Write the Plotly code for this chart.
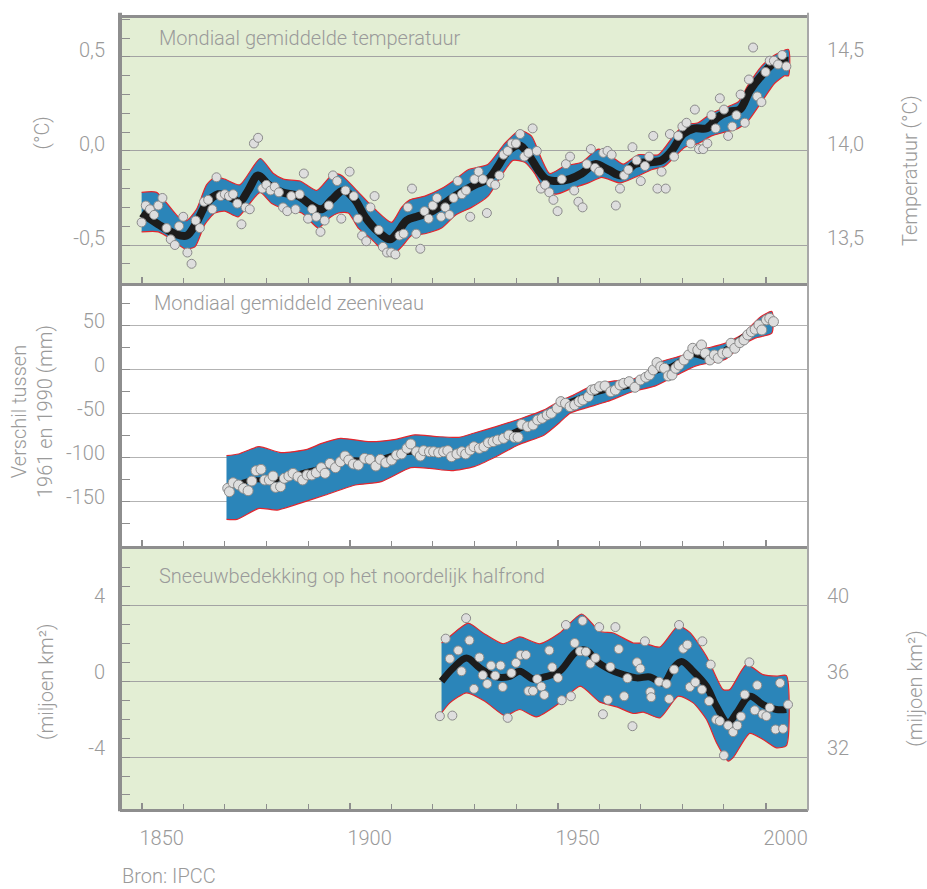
import plotly.graph_objects as go

# ---------------- data ----------------
# Panel 1: global mean temperature anomaly (deg C), one point per year 1850-2005
temp_years = list(range(1850, 2006))
temp_values = [
    -0.38, -0.29, -0.31, -0.34, -0.29, -0.25, -0.41, -0.47, -0.50, -0.40,
    -0.35, -0.54, -0.60, -0.37, -0.41, -0.27, -0.26, -0.31, -0.14, -0.24,
    -0.23, -0.24, -0.23, -0.28, -0.39, -0.30, -0.31, 0.04, 0.07, -0.20,
    -0.18, -0.21, -0.19, -0.22, -0.30, -0.32, -0.24, -0.31, -0.23, -0.12,
    -0.36, -0.31, -0.35, -0.43, -0.37, -0.29, -0.13, -0.16, -0.36, -0.21,
    -0.11, -0.24, -0.36, -0.45, -0.48, -0.30, -0.24, -0.42, -0.51, -0.54,
    -0.54, -0.55, -0.45, -0.44, -0.30, -0.20, -0.44, -0.52, -0.32, -0.36,
    -0.29, -0.25, -0.35, -0.30, -0.34, -0.25, -0.16, -0.23,
    -0.21, -0.35, -0.15, -0.11, -0.15, -0.33, -0.17, -0.18, -0.13, -0.02,
    0.00, 0.04, 0.04, 0.09, -0.03, -0.01, 0.12, 0.00, -0.20, -0.18,
    -0.22, -0.26, -0.32, -0.15, -0.07, -0.03, -0.21, -0.27, -0.30, -0.07,
    0.01, -0.09, -0.11, -0.01, 0.00, -0.02, -0.29, -0.20, -0.13, -0.10,
    0.02, -0.05, -0.16, -0.08, -0.03, 0.08, -0.20, -0.11, -0.20, 0.09,
    -0.03, 0.08, 0.13, 0.15, 0.04, 0.22, 0.01, 0.01, 0.04, 0.19,
    0.12, 0.28, 0.22, 0.08, 0.13, 0.19, 0.30, 0.15, 0.38, 0.55,
    0.29, 0.26, 0.42, 0.48, 0.48, 0.46, 0.51, 0.45,
]
temp_curve_x = [1850, 1854, 1858, 1860.8, 1863.2, 1865.6, 1868.4, 1871.6, 1873.6, 1875.6,
                1878, 1880.5, 1883.7, 1887.7, 1890.9, 1893.3, 1895.7, 1898.5, 1901.3, 1903.7,
                1906.9, 1909.7, 1911.3, 1913.7, 1916.1, 1918.9, 1922.1, 1925.3, 1930.1, 1933.3,
                1935.7, 1938.1, 1940.9, 1943.3, 1945.3, 1947.3, 1950.1, 1952.9, 1955.8, 1959,
                1962.2, 1965.4, 1968.6, 1971.8, 1975, 1977.4, 1980.2, 1983, 1985.8, 1988.6,
                1991.4, 1993.8, 1996.2, 1999, 2002.2, 2005.5]
temp_curve_y = [-0.33, -0.39, -0.44, -0.45, -0.38, -0.28, -0.23, -0.25, -0.27, -0.21,
                -0.13, -0.18, -0.22, -0.24, -0.29, -0.31, -0.26, -0.21, -0.26, -0.35,
                -0.43, -0.47, -0.44, -0.37, -0.35, -0.33, -0.29, -0.24, -0.18, -0.15,
                -0.08, 0.00, 0.03, -0.03, -0.10, -0.15, -0.16, -0.15, -0.12, -0.07,
                -0.10, -0.13, -0.07, -0.06, -0.05, 0.00, 0.09, 0.12, 0.12, 0.18,
                0.21, 0.22, 0.32, 0.40, 0.47, 0.48]
temp_top_x = [1850.0, 1853.6, 1858.8, 1860.8, 1863.2, 1865.6, 1867.6, 1870.0, 1873.6, 1878.5,
              1881.7, 1884.1, 1888.1, 1892.1, 1896.1, 1898.1, 1901.3, 1906.1, 1910.1, 1912.5,
              1914.5, 1918.1, 1922.1, 1925.5, 1928.5, 1933.3, 1937.3, 1940.9, 1943.7, 1946.1,
              1948.1, 1951.7, 1955.8, 1959.8, 1963.0, 1965.8, 1969.4, 1974.2, 1978.2, 1980.6,
              1983.8, 1987.0, 1990.2, 1993.4, 1995.8, 1999.0, 2002.2, 2005.5]
temp_top_y = [-0.22, -0.22, -0.35, -0.37, -0.31, -0.18, -0.14, -0.15, -0.18, -0.04,
              -0.12, -0.15, -0.16, -0.21, -0.12, -0.13, -0.20, -0.31, -0.38, -0.30,
              -0.26, -0.24, -0.20, -0.15, -0.10, -0.07, 0.04, 0.11, 0.08, -0.04,
              -0.12, -0.08, -0.06, 0.01, -0.03, -0.07, -0.02, -0.02, 0.09, 0.14,
              0.15, 0.20, 0.23, 0.26, 0.35, 0.45, 0.51, 0.54]
temp_bot_x = [1850.0, 1854.0, 1857.2, 1860.4, 1862.8, 1865.2, 1867.6, 1870.0, 1873.2, 1875.6,
              1878.5, 1881.3, 1884.5, 1888.5, 1892.5, 1894.9, 1897.3, 1899.7, 1902.1, 1905.3,
              1909.7, 1912.5, 1914.9, 1918.1, 1922.1, 1925.5, 1929.3, 1933.3, 1936.5, 1939.3,
              1942.1, 1944.5, 1946.9, 1949.7, 1953.3, 1957.4, 1960.6, 1965.0, 1968.6, 1972.6,
              1975.8, 1978.2, 1980.6, 1983.8, 1987.0, 1990.2, 1993.4, 1995.8, 1999.0, 2002.2,
              2004.6, 2005.5]
temp_bot_y = [-0.43, -0.43, -0.47, -0.52, -0.51, -0.39, -0.33, -0.32, -0.35, -0.29,
              -0.22, -0.28, -0.31, -0.33, -0.41, -0.36, -0.33, -0.33, -0.41, -0.47,
              -0.56, -0.51, -0.45, -0.44, -0.41, -0.34, -0.30, -0.24, -0.13, -0.05,
              -0.06, -0.12, -0.21, -0.23, -0.20, -0.17, -0.14, -0.17, -0.14, -0.10,
              -0.08, -0.03, 0.02, 0.04, 0.08, 0.10, 0.12, 0.16, 0.26, 0.36,
              0.40, 0.40]

# Panel 2: global mean sea level (mm, relative to 1961-1990)
sea_years = [1870.7, 1871.1, 1872.0, 1873.3, 1874.5, 1875.6, 1876.5, 1877.5, 1878.7, 1879.6,
             1880.7, 1881.6, 1882.2, 1883.4, 1884.3, 1885.4, 1886.4, 1887.6, 1888.7, 1889.8,
             1890.9, 1892.0, 1893.2, 1894.1, 1895.3, 1896.6, 1897.8, 1898.9, 1899.8, 1900.9,
             1902.1, 1903.6, 1904.9, 1906.3, 1907.4, 1908.7, 1910.1, 1911.3, 1912.5, 1913.8,
             1914.7, 1916.1, 1917.0, 1917.8, 1919.2, 1920.2, 1921.4, 1922.6, 1923.6, 1924.5,
             1925.8, 1927.0, 1927.9, 1929.0, 1929.9, 1931.2, 1932.3, 1933.4, 1934.5, 1935.6,
             1937.0, 1938.3, 1939.6, 1940.5, 1941.4, 1942.8, 1944.1, 1945.2, 1946.3, 1947.5,
             1948.5, 1949.9, 1950.8, 1951.9, 1953.0, 1954.1, 1955.2, 1956.1, 1957.4, 1958.2,
             1959.0, 1960.1, 1961.4, 1962.8, 1963.9, 1965.0, 1965.9, 1967.2, 1968.6, 1969.9,
             1971.2, 1972.1, 1973.0, 1973.9, 1974.8, 1975.7, 1976.6, 1977.5, 1978.4, 1979.2,
             1980.4, 1981.5, 1982.5, 1983.7, 1984.6, 1985.5, 1986.6, 1987.7, 1988.6, 1989.7,
             1990.8, 1991.7, 1992.6, 1993.8, 1994.8, 1995.7, 1996.6, 1997.5, 1998.4, 1999.1,
             2000.2, 2001.0, 2001.9]
sea_values = [-134.8, -138.6, -128.4, -131.0, -134.8, -137.5, -126.5, -114.7, -113.2, -125.3,
              -125.3, -120.8, -133.7, -132.9, -123.4, -120.8, -117.7, -121.5, -125.3, -119.6,
              -119.6, -117.0, -111.3, -117.7, -106.4, -111.3, -104.5, -98.0, -102.6, -107.1,
              -108.3, -100.7, -101.8, -109.4, -101.8, -105.6, -102.6, -96.9, -95.7, -89.3,
              -84.3, -93.1, -98.0, -91.9, -93.1, -93.1, -94.2, -93.1, -91.9, -98.8,
              -95.7, -93.1, -95.7, -91.2, -87.4, -89.3, -87.4, -82.8, -81.7, -79.8,
              -77.9, -74.1, -76.8, -76.8, -62.0, -64.6, -62.7, -57.0, -55.1, -51.3,
              -49.4, -43.7, -36.1, -38.0, -41.8, -39.9, -36.1, -34.2, -30.5, -22.9,
              -22.1, -19.1, -18.3, -24.8, -22.9, -17.2, -15.3, -13.4, -19.8, -11.5,
              -8.4, -5.8, 0.0, 8.3, 3.7, 1.8, -6.9, -5.8, 1.8, 5.6,
              11.3, 17.0, 24.6, 22.7, 28.4, 18.9, 11.3, 17.0, 13.2, 18.9,
              19.6, 30.3, 24.6, 31.0, 34.1, 39.8, 43.5, 46.2, 51.1, 45.4,
              56.8, 58.7, 54.9]
sea_curve_x = [1870.4, 1876.5, 1881.8, 1888.0, 1894.2, 1899.6, 1905.8, 1912.1, 1917.4, 1924.5,
               1929.9, 1936.1, 1941.4, 1947.7, 1952.1, 1957.4, 1962.8, 1968.1, 1973.5, 1977.0,
               1982.4, 1986.8, 1991.3, 1995.7, 1999.3, 2001.5]
sea_curve_y = [-134.8, -125.3, -125.3, -117.7, -110.1, -102.6, -102.6, -95.0, -93.1, -95.0,
               -89.3, -77.9, -66.5, -51.3, -38.0, -28.6, -22.1, -17.2, -2.0, 3.7,
               17.0, 13.2, 26.5, 41.7, 53.0, 58.7]
sea_top_x = [1870.4, 1873.3, 1878.2, 1883.5, 1889.8, 1893.3, 1897.8, 1904.9, 1911.1, 1915.6,
             1920.9, 1926.3, 1929.8, 1935.2, 1941.4, 1946.8, 1950.3, 1953.9, 1958.3, 1963.7,
             1968.1, 1971.7, 1974.4, 1979.7, 1983.3, 1986.8, 1990.4, 1994.8, 1998.4, 2001.5]
sea_top_y = [-97.6, -95.7, -87.4, -94.2, -90.4, -83.6, -77.9, -81.7, -79.0, -74.0,
             -75.9, -76.7, -72.1, -64.5, -55.0, -45.5, -36.0, -28.4, -18.2, -12.5,
             -10.6, -1.9, 8.4, 16.0, 22.8, 25.8, 30.4, 41.8, 58.9, 66.5]
sea_bot_x = [1870.4, 1872.9, 1878.2, 1882.6, 1888.0, 1894.2, 1901.4, 1907.6, 1914.7, 1919.2,
             1924.5, 1929.9, 1935.2, 1940.5, 1946.8, 1950.3, 1953.0, 1956.6, 1961.9, 1968.1,
             1973.5, 1978.8, 1983.3, 1990.4, 1993.9, 1997.5, 2001.5]
sea_bot_y = [-170.1, -170.1, -157.6, -159.5, -151.9, -142.4, -131.0, -127.2, -111.3, -112.0,
             -114.7, -110.1, -98.7, -85.4, -74.0, -60.7, -49.3, -43.6, -36.0, -24.6,
             -18.2, -5.6, 4.6, 12.2, 26.7, 36.2, 41.8]

# Panel 3: northern hemisphere snow cover anomaly (million km2)
snow_years = [1921.7, 1923.1, 1924.1, 1924.7, 1926.1, 1926.9, 1928.0, 1928.8, 1929.9, 1931.2,
              1932.0, 1933.1, 1934.0, 1935.0, 1936.3, 1936.8, 1938.0, 1938.9, 1940.0, 1941.1,
              1942.4, 1943.0, 1944.1, 1945.1, 1946.1, 1946.8, 1948.0, 1948.7, 1950.1, 1951.0,
              1952.0, 1953.2, 1954.1, 1955.4, 1956.0, 1956.8, 1957.9, 1959.1, 1960.0, 1960.9,
              1962.1, 1962.7, 1963.9, 1964.7, 1966.0, 1966.8, 1968.0, 1969.1, 1969.9, 1971.0,
              1972.3, 1972.5, 1974.4, 1976.2, 1976.8, 1978.0, 1979.2, 1980.2, 1981.2, 1981.8,
              1983.1, 1984.7, 1984.8, 1986.4, 1986.8, 1988.1, 1989.0, 1990.0, 1991.0, 1992.2,
              1993.2, 1994.1, 1995.0, 1996.1, 1997.4, 1998.0, 1999.3, 2000.2, 2001.0, 2002.4,
              2003.5, 2004.2, 2005.4]
snow_values = [-1.84, 2.25, 1.19, -1.81, 1.63, 0.53, 3.33, 2.16, -0.40, 1.26,
               0.32, -0.14, 0.83, 0.30, 0.83, -0.30, -1.93, 0.44, 0.97, 1.39,
               1.39, -0.51, -0.51, 0.12, -0.28, -0.72, 1.63, 0.74, 0.18, -1.00,
               2.97, -0.79, 2.02, 1.58, 3.19, 1.56, 0.93, 1.23, 2.86, -1.74,
               -0.98, 0.76, 2.86, 1.70, -0.79, 0.16, -2.37, 1.00, 0.67, 2.11,
               -0.56, -0.84, -0.02, -0.14, -0.93, 0.62, 2.97, 1.72, 1.93, -0.30,
               -0.05, -0.44, 2.11, -1.05, 0.88, -2.02, -2.10, -3.91, -2.33, -2.68,
               -2.33, -1.86, -0.70, 1.00, -1.53, -0.21, -1.74, -1.84, -1.39, -2.54,
               -0.09, -2.51, -1.23]
snow_curve_x = [1922.1, 1924.9, 1928.1, 1931.3, 1935.3, 1938.5, 1940.9, 1944.1, 1946.9, 1950.5,
                1954.6, 1957.0, 1959.4, 1962.6, 1965.8, 1969.0, 1972.2, 1975.4, 1977.8, 1979.8,
                1982.6, 1985.8, 1988.2, 1991.0, 1993.0, 1996.2, 1999.4, 2002.6, 2005.0]
snow_curve_y = [0.0, 0.70, 1.23, 0.70, 0.23, 0.26, 0.53, 0.12, 0.23, 0.53,
                1.58, 1.63, 1.05, 0.62, 0.35, 0.18, 0.23, -0.09, 0.70, 1.05,
                0.53, -0.26, -1.32, -2.19, -1.67, -0.79, -1.23, -1.49, -1.49]
snow_top_x = [1922.1, 1924.1, 1928.5, 1932.1, 1936.9, 1940.9, 1945.7, 1950.5, 1955.8, 1960.2,
              1963.4, 1968.2, 1970.6, 1974.6, 1979.0, 1981.8, 1985.8, 1989.8, 1991.4, 1995.4,
              1999.4, 2002.6, 2005.0]
snow_top_y = [2.02, 2.37, 3.07, 2.55, 1.98, 2.34, 1.98, 2.55, 3.55, 2.63,
              2.55, 2.02, 2.02, 1.81, 2.93, 2.58, 1.32, -0.44, -0.44, 0.88,
              0.35, 0.27, 0.30]
snow_bot_x = [1922.1, 1924.1, 1928.1, 1932.5, 1937.3, 1940.9, 1944.9, 1950.5, 1955.4, 1960.2,
              1964.2, 1968.2, 1970.6, 1974.6, 1979.0, 1982.6, 1985.8, 1988.2, 1991.0, 1992.2,
              1996.2, 1999.4, 2002.6, 2005.0]
snow_bot_y = [-1.67, -1.14, -0.61, -1.05, -1.81, -1.49, -1.88, -1.14, -0.26, -1.10,
              -1.35, -1.70, -1.63, -1.93, -0.79, -1.14, -2.02, -3.24, -4.21, -4.03,
              -2.75, -3.07, -3.51, -3.39]

x_tick_years = [1850, 1900, 1950, 2000]
x_tick_labels = ["1850", "1900", "1950", "2000"]

# ---------------- styling ----------------
FONT = "Roboto, 'Liberation Sans', Arial, sans-serif"
TXT = "#9a9a9a"
GREEN = "#e3eed4"
BLUE = "#2b85b9"
RED = "#e3262d"
AXIS = "#8e8e8e"
XR = [1844.8, 2010.2]

D1 = [0.665, 1.0]
D2 = [0.3325, 0.665]
D3 = [0.0, 0.3325]

fig = go.Figure()


def add_panel(xa, ya, top_x, top_y, bot_x, bot_y, cx, cy, px, py, cw, msize):
    fig.add_trace(go.Scatter(
        x=list(top_x) + list(bot_x)[::-1], y=list(top_y) + list(bot_y)[::-1],
        mode="lines", fill="toself", fillcolor=BLUE,
        line=dict(color=RED, width=1.2, shape="spline", smoothing=0.6),
        xaxis=xa, yaxis=ya, hoverinfo="skip"))
    fig.add_trace(go.Scatter(
        x=cx, y=cy, mode="lines",
        line=dict(color="#1c1c1c", width=cw, shape="spline", smoothing=1.0),
        xaxis=xa, yaxis=ya, hoverinfo="skip"))
    fig.add_trace(go.Scatter(
        x=px, y=py, mode="markers",
        marker=dict(size=msize, color="#dedede", line=dict(color="#8a8a8a", width=1)),
        xaxis=xa, yaxis=ya, hoverinfo="skip"))


add_panel("x", "y", temp_top_x, temp_top_y, temp_bot_x, temp_bot_y,
          temp_curve_x, temp_curve_y, temp_years, temp_values, 8, 9)
add_panel("x2", "y3", sea_top_x, sea_top_y, sea_bot_x, sea_bot_y,
          sea_curve_x, sea_curve_y, sea_years, sea_values, 5, 10)
add_panel("x3", "y4", snow_top_x, snow_top_y, snow_bot_x, snow_bot_y,
          snow_curve_x, snow_curve_y, snow_years, snow_values, 7, 9)
# invisible traces to activate right-hand axes
fig.add_trace(go.Scatter(x=[XR[0]], y=[14.0], mode="markers", marker=dict(opacity=0),
                         xaxis="x", yaxis="y2", hoverinfo="skip"))
fig.add_trace(go.Scatter(x=[XR[0]], y=[36.0], mode="markers", marker=dict(opacity=0),
                         xaxis="x3", yaxis="y5", hoverinfo="skip"))

tickfont = dict(family=FONT, size=20, color=TXT, weight=300)


def xaxis(anchor, labels=False, mirror=False):
    d = dict(range=XR, domain=[0, 1], anchor=anchor, showgrid=False, zeroline=False,
             showline=True, linecolor=AXIS, linewidth=3, mirror=mirror,
             tickvals=x_tick_years, ticktext=x_tick_labels, ticks="inside", ticklen=6,
             tickwidth=2, tickcolor=AXIS,
             minor=dict(dtick=10, tick0=1850, ticks="inside", ticklen=5, tickwidth=1,
                        tickcolor=AXIS, showgrid=False),
             showticklabels=labels, tickfont=tickfont, fixedrange=True)
    if labels:
        d.update(ticklabelshift=20, ticklabelstandoff=9)
    return d


def yaxis(anchor, dom, rng, vals, texts, mdt, grid, shift):
    return dict(domain=dom, anchor=anchor, range=rng, tickvals=vals, ticktext=texts,
                showgrid=True, gridcolor=grid, gridwidth=1, zeroline=False, showline=False,
                ticks="inside", ticklen=10, tickwidth=1, tickcolor=AXIS,
                minor=dict(dtick=mdt, tick0=0, ticks="inside", ticklen=10, tickwidth=1,
                           tickcolor=AXIS, showgrid=False),
                tickfont=tickfont, ticklabelstandoff=14, ticklabelshift=shift,
                fixedrange=True)


T_RANGE = [-0.702, 0.707]
S_RANGE = [-200.4, 98.9]
N_RANGE = [-6.74, 7.14]

fig.update_layout(
    width=927, height=889,
    margin=dict(l=120, r=119, t=18, b=80),
    paper_bgcolor="white", plot_bgcolor="rgba(0,0,0,0)",
    showlegend=False, hovermode=False,
    font=dict(family=FONT, size=20, color=TXT),
    xaxis=xaxis("y", mirror=True),
    xaxis2=xaxis("y3"),
    xaxis3=xaxis("y4", labels=True),
    yaxis=yaxis("x", D1, T_RANGE, [-0.5, 0, 0.5], ["-0,5", "0,0", "0,5"], 0.1, "#a3a3a3", -7),
    yaxis2=dict(overlaying="y", side="right", anchor="x",
                range=[T_RANGE[0] + 14.0, T_RANGE[1] + 14.0],
                tickvals=[13.5, 14.0, 14.5], ticktext=["13,5", "14,0", "14,5"],
                showgrid=False, zeroline=False, showline=False, ticks="",
                tickfont=tickfont, ticklabelstandoff=18, ticklabelshift=-7, fixedrange=True),
    yaxis3=yaxis("x2", D2, S_RANGE, [-150, -100, -50, 0, 50],
                 ["-150", "-100", "-50", "0", "50"], 25, "#b3b3b3", -5),
    yaxis4=yaxis("x3", D3, N_RANGE, [-4, 0, 4], ["-4", "0", "4"], 1, "#a3a3a3", -9),
    yaxis5=dict(overlaying="y4", side="right", anchor="x3",
                range=[N_RANGE[0] + 36.0, N_RANGE[1] + 36.0],
                tickvals=[32, 36, 40], ticktext=["32", "36", "40"],
                showgrid=False, zeroline=False, showline=False, ticks="",
                tickfont=tickfont, ticklabelstandoff=18, ticklabelshift=-9, fixedrange=True),
)

shapes = [
    dict(type="rect", xref="paper", yref="paper", x0=0, x1=1, y0=D1[0], y1=D1[1],
         fillcolor=GREEN, line=dict(width=0), layer="below"),
    dict(type="rect", xref="paper", yref="paper", x0=0, x1=1, y0=D3[0], y1=D3[1],
         fillcolor=GREEN, line=dict(width=0), layer="below"),
    dict(type="line", xref="paper", yref="paper", x0=1, x1=1, y0=-0.002, y1=1.0067,
         line=dict(color="#a8a8a8", width=2), layer="above"),
    dict(type="line", xref="paper", yref="paper", x0=0, x1=0, y0=-0.003, y1=1.0067,
         line=dict(color=AXIS, width=4), layer="above"),
]
fig.update_layout(shapes=shapes)

ann_font = dict(family=FONT, size=20, color=TXT, weight=300)


def ann(text, x, y, xanchor="center", angle=0):
    return dict(text=text, x=x, y=y, xref="paper", yref="paper", xanchor=xanchor,
                yanchor="middle", showarrow=False, textangle=angle, font=ann_font)


fig.update_layout(annotations=[
    ann("Mondiaal gemiddelde temperatuur", 0.0538, 0.9741, "left"),
    ann("Mondiaal gemiddeld zeeniveau", 0.0465, 0.6401, "left"),
    ann("Sneeuwbedekking op het noordelijk halfrond", 0.0538, 0.2946, "left"),
    ann("(°C)", -0.1134, 0.8553, angle=-90),
    ann("Temperatuur (°C)", 1.1483, 0.8066, angle=-90),
    ann("Verschil tussen<br>1961 en 1990 (mm)", -0.1279, 0.5019, angle=-90),
    ann("(miljoen km²)", -0.1076, 0.1606, angle=-90),
    ann("(miljoen km²)", 1.155, 0.1517, angle=-90),
    ann("Bron: IPCC", 0.0, -0.0848, "left"),
])

fig.write_html(
    "out.html",
    config={"displayModeBar": False},
    post_script="document.body.style.margin='0';document.body.style.overflow='hidden';",
)
